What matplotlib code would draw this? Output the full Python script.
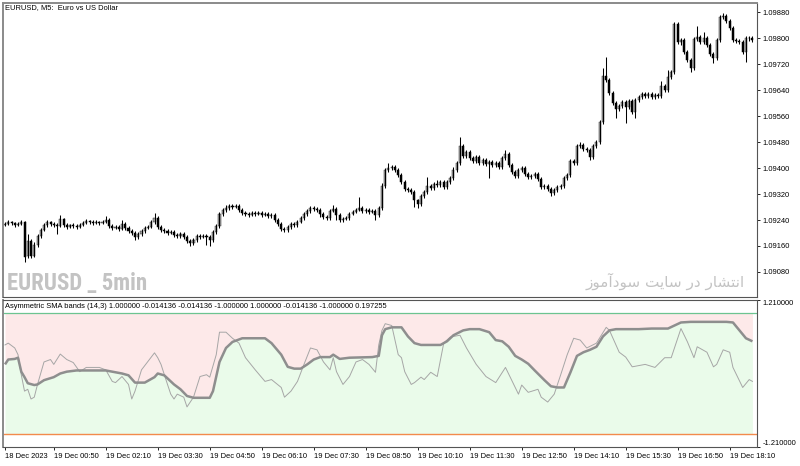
import matplotlib
matplotlib.use("Agg")
import matplotlib.pyplot as plt
from matplotlib import font_manager as fm
import numpy as np

# ---------------- data ----------------
opens = [1.09225,1.09228,1.09234,1.09231,1.09225,1.09228,1.09234,1.09129,1.09175,1.09129,
1.09163,1.09191,1.09209,1.09225,1.09234,1.09228,1.09225,1.09222,1.09243,1.09225,
1.09218,1.09225,1.09222,1.09218,1.09225,1.09231,1.09237,1.09234,1.09231,1.09234,
1.09231,1.09234,1.09240,1.09222,1.09215,1.09218,1.09212,1.09228,1.09215,1.09206,
1.09200,1.09188,1.09197,1.09206,1.09215,1.09218,1.09234,1.09246,1.09218,1.09209,
1.09206,1.09200,1.09203,1.09194,1.09191,1.09197,1.09188,1.09175,1.09169,1.09178,
1.09191,1.09188,1.09191,1.09188,1.09178,1.09203,1.09222,1.09258,1.09271,1.09277,
1.09283,1.09280,1.09283,1.09271,1.09262,1.09258,1.09255,1.09262,1.09258,1.09262,
1.09255,1.09258,1.09252,1.09255,1.09240,1.09228,1.09212,1.09209,1.09218,1.09228,
1.09225,1.09234,1.09246,1.09258,1.09268,1.09277,1.09274,1.09271,1.09258,1.09249,
1.09246,1.09268,1.09274,1.09255,1.09240,1.09243,1.09246,1.09258,1.09265,1.09271,
1.09277,1.09268,1.09271,1.09265,1.09268,1.09255,1.09277,1.09345,1.09394,1.09400,
1.09403,1.09394,1.09378,1.09357,1.09335,1.09332,1.09326,1.09302,1.09289,1.09314,
1.09326,1.09345,1.09338,1.09351,1.09348,1.09357,1.09342,1.09357,1.09369,1.09394,
1.09415,1.09468,1.09437,1.09449,1.09431,1.09422,1.09434,1.09415,1.09425,1.09412,
1.09418,1.09409,1.09415,1.09403,1.09431,1.09443,1.09409,1.09388,1.09375,1.09394,
1.09400,1.09382,1.09372,1.09375,1.09382,1.09366,1.09342,1.09345,1.09335,1.09323,
1.09332,1.09342,1.09345,1.09369,1.09378,1.09422,1.09415,1.09468,1.09471,1.09458,
1.09455,1.09434,1.09468,1.09480,1.09542,1.09683,1.09671,1.09631,1.09600,1.09582,
1.09591,1.09603,1.09588,1.09606,1.09572,1.09609,1.09618,1.09628,1.09622,1.09628,
1.09618,1.09625,1.09622,1.09652,1.09640,1.09680,1.09695,1.09843,1.09788,1.09794,
1.09757,1.09732,1.09708,1.09797,1.09803,1.09788,1.09800,1.09778,1.09751,1.09738,
1.09794,1.09865,1.09868,1.09852,1.09831,1.09794,1.09791,1.09788,1.09757,1.09800,
1.09800]
closes = [1.09228,1.09234,1.09231,1.09225,1.09228,1.09234,1.09126,1.09175,1.09129,1.09163,
1.09191,1.09209,1.09225,1.09234,1.09228,1.09225,1.09222,1.09243,1.09225,1.09218,
1.09225,1.09222,1.09218,1.09225,1.09231,1.09237,1.09234,1.09231,1.09234,1.09231,
1.09234,1.09240,1.09222,1.09215,1.09218,1.09212,1.09228,1.09215,1.09206,1.09200,
1.09188,1.09197,1.09206,1.09215,1.09218,1.09234,1.09246,1.09218,1.09209,1.09206,
1.09200,1.09203,1.09194,1.09191,1.09197,1.09188,1.09175,1.09169,1.09178,1.09191,
1.09188,1.09191,1.09188,1.09178,1.09203,1.09222,1.09258,1.09271,1.09277,1.09283,
1.09280,1.09283,1.09271,1.09262,1.09258,1.09255,1.09262,1.09258,1.09262,1.09255,
1.09258,1.09252,1.09255,1.09240,1.09228,1.09212,1.09209,1.09218,1.09228,1.09225,
1.09234,1.09246,1.09258,1.09268,1.09277,1.09274,1.09271,1.09258,1.09249,1.09246,
1.09268,1.09274,1.09255,1.09240,1.09243,1.09246,1.09258,1.09265,1.09271,1.09277,
1.09268,1.09271,1.09265,1.09268,1.09255,1.09277,1.09345,1.09394,1.09400,1.09403,
1.09394,1.09378,1.09357,1.09335,1.09332,1.09326,1.09302,1.09289,1.09314,1.09326,
1.09345,1.09338,1.09351,1.09348,1.09357,1.09342,1.09357,1.09369,1.09394,1.09415,
1.09468,1.09437,1.09449,1.09431,1.09422,1.09434,1.09415,1.09425,1.09412,1.09418,
1.09409,1.09415,1.09403,1.09431,1.09443,1.09409,1.09388,1.09375,1.09394,1.09400,
1.09382,1.09372,1.09375,1.09382,1.09366,1.09342,1.09345,1.09335,1.09323,1.09332,
1.09342,1.09345,1.09369,1.09378,1.09422,1.09415,1.09468,1.09471,1.09458,1.09455,
1.09434,1.09468,1.09480,1.09542,1.09683,1.09671,1.09631,1.09600,1.09582,1.09591,
1.09603,1.09588,1.09606,1.09572,1.09609,1.09618,1.09628,1.09622,1.09628,1.09618,
1.09625,1.09622,1.09652,1.09640,1.09680,1.09695,1.09843,1.09788,1.09794,1.09757,
1.09732,1.09708,1.09797,1.09803,1.09788,1.09800,1.09778,1.09751,1.09738,1.09794,
1.09865,1.09868,1.09852,1.09831,1.09794,1.09791,1.09788,1.09757,1.09800,1.09800,
1.09794]
highs = [1.09234,1.09240,1.09237,1.09234,1.09234,1.09240,1.09237,1.09197,1.09182,1.09172,
1.09197,1.09215,1.09231,1.09240,1.09237,1.09234,1.09231,1.09255,1.09246,1.09231,
1.09228,1.09231,1.09228,1.09231,1.09237,1.09243,1.09240,1.09240,1.09240,1.09237,
1.09240,1.09252,1.09246,1.09228,1.09225,1.09225,1.09240,1.09234,1.09222,1.09212,
1.09206,1.09203,1.09212,1.09222,1.09225,1.09240,1.09262,1.09252,1.09225,1.09215,
1.09212,1.09209,1.09209,1.09200,1.09203,1.09203,1.09194,1.09182,1.09185,1.09197,
1.09197,1.09197,1.09197,1.09194,1.09209,1.09228,1.09265,1.09277,1.09286,1.09289,
1.09289,1.09289,1.09289,1.09277,1.09268,1.09265,1.09268,1.09268,1.09268,1.09268,
1.09265,1.09265,1.09262,1.09262,1.09246,1.09234,1.09218,1.09225,1.09234,1.09234,
1.09240,1.09252,1.09265,1.09274,1.09283,1.09283,1.09280,1.09277,1.09265,1.09255,
1.09274,1.09286,1.09280,1.09262,1.09249,1.09252,1.09265,1.09271,1.09277,1.09311,
1.09283,1.09277,1.09277,1.09274,1.09274,1.09283,1.09354,1.09400,1.09415,1.09409,
1.09409,1.09400,1.09385,1.09363,1.09342,1.09338,1.09332,1.09305,1.09320,1.09332,
1.09372,1.09351,1.09357,1.09363,1.09363,1.09363,1.09363,1.09375,1.09403,1.09422,
1.09495,1.09474,1.09455,1.09455,1.09437,1.09440,1.09440,1.09431,1.09431,1.09425,
1.09425,1.09422,1.09422,1.09437,1.09455,1.09449,1.09415,1.09394,1.09400,1.09406,
1.09406,1.09388,1.09382,1.09388,1.09388,1.09372,1.09351,1.09351,1.09342,1.09338,
1.09348,1.09351,1.09375,1.09385,1.09428,1.09428,1.09474,1.09480,1.09477,1.09465,
1.09462,1.09474,1.09486,1.09548,1.09708,1.09742,1.09677,1.09637,1.09606,1.09597,
1.09609,1.09609,1.09612,1.09612,1.09615,1.09625,1.09634,1.09634,1.09634,1.09634,
1.09631,1.09631,1.09668,1.09658,1.09702,1.09702,1.09849,1.09849,1.09800,1.09800,
1.09763,1.09738,1.09803,1.09837,1.09809,1.09818,1.09806,1.09785,1.09757,1.09800,
1.09871,1.09877,1.09874,1.09858,1.09837,1.09800,1.09797,1.09794,1.09806,1.09806,
1.09806]
lows = [1.09222,1.09225,1.09225,1.09218,1.09222,1.09225,1.09111,1.09123,1.09123,1.09126,
1.09157,1.09185,1.09206,1.09218,1.09222,1.09218,1.09197,1.09218,1.09218,1.09212,
1.09215,1.09215,1.09212,1.09215,1.09222,1.09228,1.09228,1.09225,1.09228,1.09225,
1.09228,1.09231,1.09215,1.09209,1.09212,1.09206,1.09209,1.09209,1.09200,1.09194,
1.09178,1.09182,1.09191,1.09200,1.09212,1.09215,1.09228,1.09212,1.09203,1.09200,
1.09194,1.09197,1.09188,1.09185,1.09185,1.09182,1.09169,1.09160,1.09163,1.09172,
1.09182,1.09185,1.09163,1.09160,1.09172,1.09197,1.09215,1.09252,1.09265,1.09271,
1.09274,1.09277,1.09265,1.09255,1.09252,1.09249,1.09252,1.09252,1.09255,1.09249,
1.09252,1.09246,1.09246,1.09234,1.09222,1.09206,1.09203,1.09203,1.09212,1.09218,
1.09218,1.09231,1.09240,1.09252,1.09262,1.09268,1.09265,1.09249,1.09243,1.09240,
1.09240,1.09265,1.09240,1.09234,1.09234,1.09240,1.09240,1.09255,1.09262,1.09268,
1.09262,1.09262,1.09258,1.09262,1.09240,1.09249,1.09271,1.09338,1.09388,1.09394,
1.09388,1.09372,1.09351,1.09329,1.09326,1.09320,1.09280,1.09277,1.09283,1.09308,
1.09320,1.09332,1.09332,1.09342,1.09342,1.09335,1.09335,1.09351,1.09363,1.09388,
1.09409,1.09431,1.09431,1.09425,1.09415,1.09415,1.09409,1.09409,1.09406,1.09369,
1.09403,1.09403,1.09397,1.09397,1.09425,1.09403,1.09382,1.09369,1.09369,1.09388,
1.09375,1.09366,1.09366,1.09369,1.09360,1.09335,1.09335,1.09329,1.09314,1.09317,
1.09326,1.09335,1.09338,1.09363,1.09372,1.09409,1.09409,1.09462,1.09452,1.09449,
1.09425,1.09428,1.09462,1.09474,1.09535,1.09665,1.09625,1.09594,1.09554,1.09575,
1.09585,1.09538,1.09582,1.09566,1.09554,1.09603,1.09612,1.09615,1.09615,1.09612,
1.09612,1.09615,1.09615,1.09634,1.09634,1.09674,1.09689,1.09782,1.09778,1.09751,
1.09726,1.09695,1.09702,1.09791,1.09782,1.09782,1.09772,1.09745,1.09723,1.09732,
1.09788,1.09858,1.09846,1.09825,1.09788,1.09785,1.09782,1.09751,1.09726,1.09791,
1.09788]

price_ticks = [1.09080, 1.09160, 1.09240, 1.09320, 1.09400, 1.09480, 1.09560,
               1.09640, 1.09720, 1.09800, 1.09880]
price_tick_labels = ["1.09080", "1.09160", "1.09240", "1.09320", "1.09400", "1.09480",
                     "1.09560", "1.09640", "1.09720", "1.09800", "1.09880"]

time_tick_bars = [0, 15, 31, 47, 63, 79, 95, 111, 127, 143, 159, 175, 191, 207, 223]
time_tick_labels = ["18 Dec 2023", "19 Dec 00:50", "19 Dec 02:10", "19 Dec 03:30",
                    "19 Dec 04:50", "19 Dec 06:10", "19 Dec 07:30", "19 Dec 08:50",
                    "19 Dec 10:10", "19 Dec 11:30", "19 Dec 12:50", "19 Dec 14:10",
                    "19 Dec 15:30", "19 Dec 16:50", "19 Dec 18:10"]

level_up = 1.0
level_dn = -1.0
ind_scale = [-1.21, 1.21]
ind_scale_labels = ["-1.210000", "1.210000"]

thick_bars = [0,1,3,4,5,6,7,9,10,12,15,17,19,22,31,33,36,38,40,43,46,47,49,52,54,56,58,63,64,66,
              68,70,73,80,82,85,87,89,91,93,95,97,100,101,103,106,113,115,116,117,119,122,124,126,128,
              134,136,138,141,143,146,149,151,153,155,157,159,161,163,166,168,170,172,174,176,178,180,
              182,184,186,188,195,199,204,206,208,211,222,224,226,228,230]
thick_vals = [0.15,0.23,0.24,0.26,0.03,-0.06,-0.16,-0.19,-0.18,-0.11,-0.06,0.00,0.03,0.05,0.05,0.03,
              0.00,-0.03,-0.15,-0.15,-0.06,0.00,-0.03,-0.18,-0.26,-0.37,-0.40,-0.40,-0.29,0.19,
              0.42,0.52,0.58,0.58,0.50,0.31,0.11,0.08,0.08,0.15,0.23,0.27,0.27,0.31,0.24,0.26,0.27,
              0.29,0.63,0.73,0.76,0.76,0.61,0.50,0.47,0.47,0.53,0.63,0.71,0.73,0.73,0.68,0.55,0.53,
              0.44,0.29,0.23,0.16,0.05,-0.11,-0.21,-0.23,-0.23,0.02,0.29,0.35,0.39,0.44,0.61,0.71,
              0.73,0.73,0.74,0.74,0.79,0.84,0.85,0.85,0.84,0.71,0.58,0.53]

thin_bars = [0,1,3,4,5,6,7,8,9,10,12,14,15,17,19,21,23,25,29,31,33,34,36,38,39,40,42,46,47,48,
             50,51,52,53,55,56,58,60,62,63,65,66,68,70,72,74,77,80,82,85,86,88,90,92,94,96,98,100,
             101,102,104,106,108,110,112,114,115,116,117,119,121,122,123,125,126,128,129,131,133,
             135,137,140,142,145,148,151,154,158,159,161,164,165,167,169,171,173,175,177,179,182,
             185,186,189,191,193,197,200,203,205,208,210,212,213,216,218,219,221,223,224,227,229,230]
thin_vals = [0.47,0.50,0.42,0.31,-0.02,-0.29,-0.26,-0.42,-0.39,-0.18,0.19,0.23,0.15,0.32,0.23,0.18,
             0.03,0.10,0.10,0.06,-0.13,-0.15,-0.05,-0.18,-0.42,-0.29,0.06,0.34,0.26,0.15,-0.18,-0.34,
             -0.42,-0.34,-0.39,-0.55,-0.39,-0.05,-0.02,-0.06,0.31,0.68,0.68,0.58,0.50,0.26,0.06,-0.13,
             -0.10,-0.23,-0.39,-0.29,-0.13,0.15,0.42,0.39,0.19,0.06,0.26,0.03,-0.18,-0.05,0.19,0.23,
             0.15,0.02,0.47,0.71,0.82,0.79,0.31,0.26,0.03,-0.18,-0.15,-0.06,-0.10,0.02,-0.05,0.50,
             0.60,0.63,0.42,0.15,-0.05,-0.15,0.10,-0.34,-0.19,-0.31,-0.26,-0.39,-0.47,-0.34,-0.02,
             0.31,0.58,0.55,0.42,0.50,0.76,0.71,0.35,0.27,0.11,0.15,0.10,0.26,0.26,0.74,0.52,0.26,
             0.44,0.35,0.11,0.15,0.39,0.35,0.10,-0.23,-0.10,-0.13]

header_text = "EURUSD, M5:  Euro vs US Dollar"
indicator_text = ("Asymmetric SMA bands (14,3) 1.000000 -0.014136 -0.014136 -1.000000 "
                  "1.000000 -0.014136 -1.000000 0.197255")
watermark_left = "EURUSD _ 5min"
# "انتشار در سایت سودآموز" written with Arabic presentation forms in visual order
watermark_right = ("\uFEAF\uFEEE\uFEE3\uFE81\uFEA9\uFEEE\uFEB3 \uFE96\uFBFE\uFE8E\uFEB3 "
                   "\uFEAD\uFEA9 \uFEAD\uFE8E\uFEB8\uFE98\uFEE7\uFE8D")

# ---------------- fonts ----------------
installed = {f.name for f in fm.fontManager.ttflist}
ui_font = "Liberation Sans" if "Liberation Sans" in installed else "DejaVu Sans"
plt.rcParams["font.family"] = [ui_font, "DejaVu Sans"]
FS = 5.4


def pick_condensed_bold():
    best = None
    for f in fm.fontManager.ttflist:
        narrow = (f.stretch in ("condensed", "semi-condensed", "extra-condensed",
                                "ultra-condensed")
                  or "Condensed" in f.name or "Narrow" in f.name)
        if not narrow:
            continue
        w = f.weight if isinstance(f.weight, int) else fm.weight_dict.get(f.weight, 400)
        if w >= 600 and f.style == "normal":
            if best is None or ("Liberation" in f.name or "Roboto" in f.name):
                best = f
    return best


cond = pick_condensed_bold()
if cond is not None:
    wm_prop = fm.FontProperties(fname=cond.fname, size=16.5)
else:
    wm_prop = fm.FontProperties(family=[ui_font], weight="bold", size=13.5)

# ---------------- figure ----------------
W, H = 800, 466
fig = plt.figure(figsize=(W / 100, H / 100), dpi=100)
fig.patch.set_facecolor("white")

ax1 = fig.add_axes([3 / W, 1 - 297 / H, 754 / W, 294 / H])
ax2 = fig.add_axes([3 / W, 1 - 447 / H, 754 / W, 147 / H])

o = np.array(opens); c = np.array(closes); h = np.array(highs); l = np.array(lows)
x = np.arange(len(c))
up = c >= o

ax1.vlines(x, l, h, color="black", linewidth=0.75)
ax1.bar(x[up], (c - o)[up], bottom=o[up], width=0.62, color="#a0a0a0",
        edgecolor="#2a2a2a", linewidth=0.35)
ax1.bar(x[~up], (o - c)[~up], bottom=c[~up], width=0.62, color="black",
        edgecolor="black", linewidth=0.35)

xlim = (-0.62, 231.4)
ax1.set_xlim(*xlim)
ax1.set_ylim(1.09003, 1.09908)
ax1.set_xticks([])
ax1.yaxis.tick_right()
ax1.set_yticks(price_ticks)
ax1.set_yticklabels(price_tick_labels)
ax1.tick_params(axis="y", direction="out", length=2.5, width=0.6, pad=1.5,
                labelsize=FS, colors="black")

# indicator panel
tb = np.array(thick_bars); tv = np.array(thick_vals)
ax2.fill_between(tb, tv, level_up, color="#fde9e9", linewidth=0)
ax2.fill_between(tb, level_dn, tv, color="#eafbea", linewidth=0)
ax2.axhline(level_up, color="#6cc491", linewidth=0.9)
ax2.axhline(level_dn, color="#f28a4c", linewidth=1.0)
ax2.plot(thin_bars, thin_vals, color="#a6a6a6", linewidth=0.7)
ax2.plot(tb, tv, color="#8e8e8e", linewidth=1.8, solid_capstyle="butt")
ax2.set_xlim(*xlim)
ax2.set_ylim(ind_scale[0], ind_scale[1])
ax2.yaxis.tick_right()
ax2.set_yticks(ind_scale)
ax2.set_yticklabels(ind_scale_labels)
ax2.tick_params(axis="y", direction="out", length=2.5, width=0.6, pad=1.5,
                labelsize=FS, colors="black")
ylabs = ax2.get_yticklabels()
ylabs[0].set_va("bottom")
ylabs[1].set_va("top")
ax2.set_xticks(time_tick_bars)
ax2.set_xticklabels(time_tick_labels, ha="left")
ax2.tick_params(axis="x", direction="out", length=2.5, width=0.6, pad=1.5,
                labelsize=FS, colors="black")

for ax in (ax1, ax2):
    for sp in ax.spines.values():
        sp.set_color("#555555")
        sp.set_linewidth(0.8)
    ax.spines["left"].set_color("#8a8a8a")
    ax.spines["left"].set_linewidth(1.4)
ax1.spines["top"].set_color("#8a8a8a")
ax1.spines["top"].set_linewidth(1.4)

# texts
fig.text(5 / W, 1 - 8 / H, header_text, fontsize=FS, va="center", ha="left")
fig.text(5 / W, 1 - 307 / H, indicator_text, fontsize=FS, va="center", ha="left")
fig.text(7 / W, 1 - 290 / H, watermark_left, fontproperties=wm_prop,
         color="#c3c3c3", va="baseline", ha="left")
fig.text(745 / W, 1 - 281 / H, watermark_right, fontsize=11, family=["DejaVu Sans"],
         color="#c3c3c3", va="center", ha="right")

fig.savefig("out.png", dpi=100, facecolor="white")
